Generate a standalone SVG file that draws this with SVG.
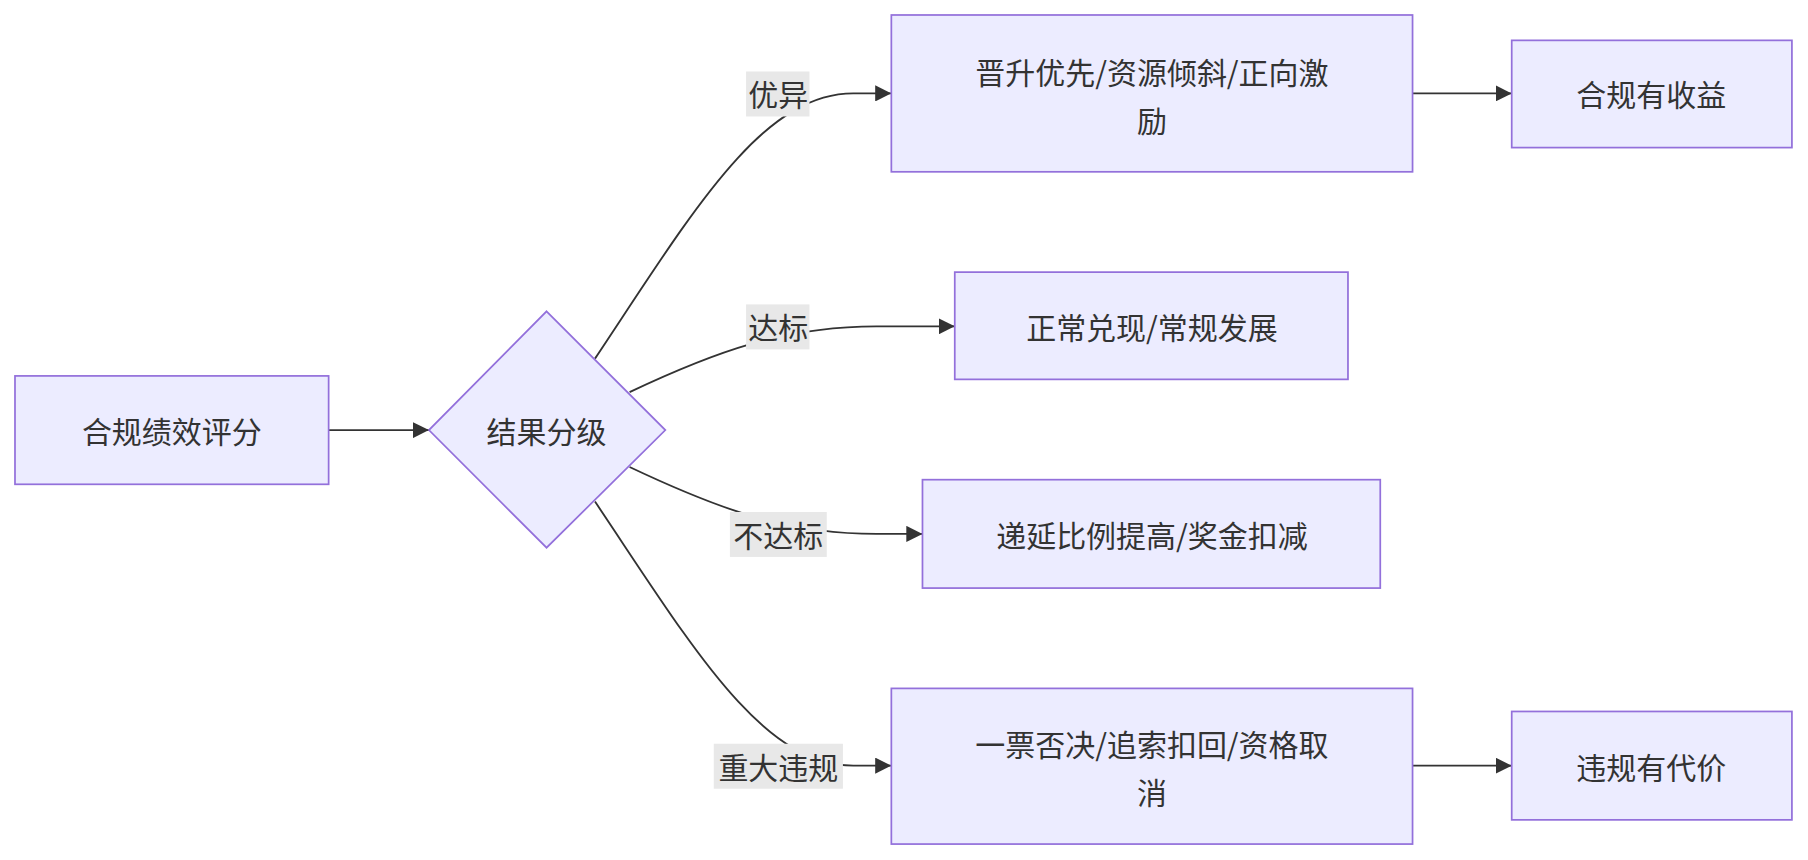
<svg xmlns="http://www.w3.org/2000/svg" width="1808" height="860" viewBox="0 0 1808 860">
<style>
.n{fill:#ECECFF;stroke:#9370DB;stroke-width:1.5}
.t{font-family:"Noto Sans CJK SC","Liberation Sans",sans-serif;font-size:26px;fill:#333;text-anchor:middle;dominant-baseline:central}
.e{fill:none;stroke:#333;stroke-width:1.6}
.lb{fill:#e8e8e8}
</style>
<defs><marker id="ar" viewBox="0 0 10 10" refX="9" refY="5" markerWidth="8" markerHeight="8" orient="auto" markerUnits="userSpaceOnUse"><path d="M0,0L10,5L0,10z" fill="#333" transform="scale(1.4) translate(-3,-1.4)"/></marker>
<marker id="a" viewBox="0 0 10 10" refX="10" refY="5" markerWidth="14" markerHeight="14" orient="auto" markerUnits="userSpaceOnUse"><path d="M0,0L10,5L0,10z" fill="#333"/></marker></defs>
<rect width="1808" height="860" fill="#fff"/>
<g transform="scale(1.1531)">
<g id="edges">
<path class="e" d="M285,373H372" marker-end="url(#a)"/>
<path class="e" d="M516,311C600,185 660,81 740,81H773" marker-end="url(#a)"/>
<path class="e" d="M546,340C620,305 680,283 760,283H828" marker-end="url(#a)"/>
<path class="e" d="M546,405C620,440 680,463 760,463H800" marker-end="url(#a)"/>
<path class="e" d="M516,435C600,560 660,664 740,664H773" marker-end="url(#a)"/>
<path class="e" d="M1225,81H1311" marker-end="url(#a)"/>
<path class="e" d="M1225,664H1311" marker-end="url(#a)"/>
<rect class="lb" x="647" y="62" width="55" height="39"/><text class="t" x="675" y="81">优异</text>
<rect class="lb" x="647" y="264" width="55" height="39"/><text class="t" x="675" y="283">达标</text>
<rect class="lb" x="633" y="444" width="84" height="39"/><text class="t" x="675" y="463">不达标</text>
<rect class="lb" x="619" y="645" width="112" height="39"/><text class="t" x="675" y="664">重大违规</text>
</g>
<g id="A"><rect class="n" x="13" y="326" width="272" height="94"/><text class="t" x="149" y="373">合规绩效评分</text></g>
<g id="D"><path class="n" d="M474,270L577,373L474,475L372,373Z"/><text class="t" x="474" y="373">结果分级</text></g>
<g id="B1"><rect class="n" x="773" y="13" width="452" height="136"/><text class="t" x="999" y="62">晋升优先/资源倾斜/正向激</text><text class="t" x="999" y="103">励</text></g>
<g id="B2"><rect class="n" x="828" y="236" width="341" height="93"/><text class="t" x="999" y="283">正常兑现/常规发展</text></g>
<g id="B3"><rect class="n" x="800" y="416" width="397" height="94"/><text class="t" x="999" y="463">递延比例提高/奖金扣减</text></g>
<g id="B4"><rect class="n" x="773" y="597" width="452" height="135"/><text class="t" x="999" y="644">一票否决/追索扣回/资格取</text><text class="t" x="999" y="686">消</text></g>
<g id="C1"><rect class="n" x="1311" y="35" width="243" height="93"/><text class="t" x="1432" y="81">合规有收益</text></g>
<g id="C2"><rect class="n" x="1311" y="617" width="243" height="94"/><text class="t" x="1432" y="664">违规有代价</text></g>
</g>
</svg>
